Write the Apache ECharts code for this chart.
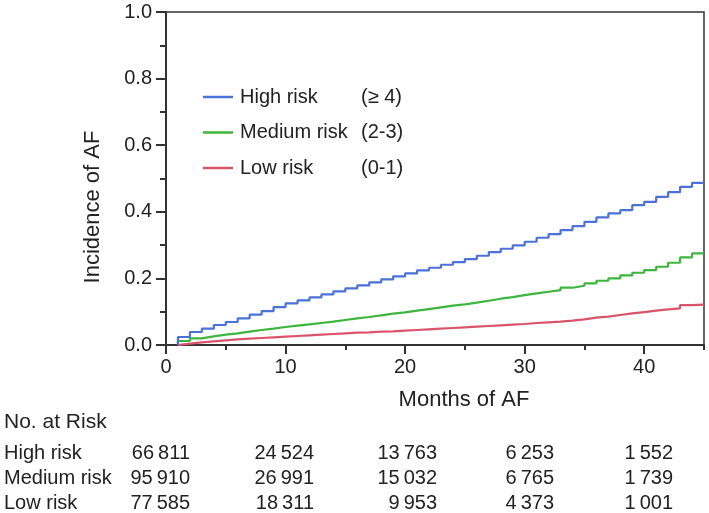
<!DOCTYPE html>
<html>
<head>
<meta charset="utf-8">
<script src="https://cdn.jsdelivr.net/npm/echarts@6/dist/echarts.min.js"></script>
<style>html,body{margin:0;padding:0;background:#fff}#c{width:709px;height:513px}</style>
</head>
<body>
<div id="c"></div>
<script>
// ---- data ----
const months = [1,2,3,4,5,6,7,8,9,10,11,12,13,14,15,16,17,18,19,20,21,22,23,24,25,26,27,28,29,30,31,32,33,34,35,36,37,38,39,40,41,42,43,44];
const endMonth = 45;
const highRisk = [0.024,0.039,0.049,0.060,0.069,0.080,0.091,0.102,0.114,0.125,0.134,0.143,0.152,0.161,0.170,0.179,0.188,0.197,0.206,0.215,0.224,0.232,0.241,0.249,0.258,0.268,0.279,0.289,0.299,0.310,0.322,0.333,0.345,0.357,0.370,0.383,0.395,0.405,0.420,0.430,0.445,0.459,0.475,0.487];
const mediumRisk = [0.012,0.020,0.026,0.031,0.035,0.040,0.045,0.049,0.054,0.058,0.062,0.066,0.070,0.075,0.080,0.084,0.089,0.094,0.098,0.103,0.108,0.113,0.118,0.122,0.127,0.133,0.139,0.144,0.150,0.155,0.160,0.165,0.172,0.178,0.185,0.193,0.200,0.209,0.217,0.225,0.235,0.247,0.263,0.275];
const lowRisk = [0.004,0.008,0.011,0.014,0.017,0.019,0.021,0.023,0.025,0.027,0.029,0.031,0.033,0.035,0.037,0.038,0.040,0.041,0.043,0.045,0.047,0.049,0.051,0.053,0.055,0.057,0.059,0.061,0.063,0.066,0.068,0.070,0.073,0.077,0.082,0.085,0.090,0.095,0.099,0.103,0.107,0.110,0.120,0.121];
const seriesNames = ['High risk','Medium risk','Low risk'];
const seriesCriteria = ['(≥ 4)','(2-3)','(0-1)'];
const yTicks = [0,0.2,0.4,0.6,0.8,1.0];
const xTicks = [0,10,20,30,40];
const tableTitle = 'No. at Risk';
const atRiskHigh = [66811,24524,13763,6253,1552];
const atRiskMedium = [95910,26991,15032,6765,1739];
const atRiskLow = [77585,18311,9953,4373,1001];

// ---- styles / layout ----
const colors = ['#4a72d8','#3db63d','#d9546a'];
const FONT = '"Liberation Sans", Arial, Helvetica, sans-serif';
const txt = '#222';
const axisCol = '#333';
const tableColRight = [190,314,437,554,673];
const tableRowY = [453,478,503];

function stepData(vals){
  const d = [[months[0],0]];
  for (let i=0;i<months.length;i++) d.push([months[i],vals[i]]);
  d.push([endMonth, vals[vals.length-1]]);
  return d;
}
function fmt(n){
  const s = String(n);
  return s.length>3 ? s.slice(0,s.length-3)+'\u2009'+s.slice(s.length-3) : s;
}

const chart = echarts.init(document.getElementById('c'), null, {renderer:'canvas'});
const allVals = [highRisk, mediumRisk, lowRisk];
const tables = [atRiskHigh, atRiskMedium, atRiskLow];

function T(text, x, y, size, align, rot){
  const el = {type:'text', x:x, y:y,
    style:{text:text, x:0, y:0, font:size+'px '+FONT, fill:txt, align:align, verticalAlign:'middle', textAlign:align, textVerticalAlign:'middle'}};
  if (rot) el.rotation = rot;
  return el;
}
const graphics = [];
graphics.push(T('Incidence of AF', 93, 207, 22, 'center', Math.PI/2));
graphics.push(T('Months of AF', 464, 400, 22, 'center'));
graphics.push(T(tableTitle, 4, 422, 21, 'left'));
for (let r=0;r<3;r++){
  graphics.push(T(seriesNames[r], 4, tableRowY[r], 20, 'left'));
  for (let c=0;c<tables[r].length;c++){
    graphics.push(T(fmt(tables[r][c]), tableColRight[c], tableRowY[r], 20, 'right'));
  }
}

const option = {
  animation:false,
  backgroundColor:'#fff',
  grid:[
    {left:166, right:5, top:12, bottom:168, show:true, borderColor:axisCol, borderWidth:1.5, containLabel:false},
    {left:166, right:5, top:12, bottom:168, show:false, containLabel:false}
  ],
  legend:{
    left:203, top:87, padding:0, orient:'vertical', icon:'rect', itemWidth:30, itemHeight:2.5, itemGap:15.5,
    data:seriesNames,
    formatter:function(name){ const i = seriesNames.indexOf(name); return '{a|'+name+'}{b|'+seriesCriteria[i]+'}'; },
    textStyle:{rich:{
      a:{width:121, fontSize:20, fontFamily:FONT, color:txt, lineHeight:20, padding:[0,0,0,2]},
      b:{fontSize:20, fontFamily:FONT, color:txt, lineHeight:20}
    }}
  },
  xAxis:[
    {type:'value', gridIndex:0, min:0, max:45, interval:10,
     axisLine:{show:true, onZero:false, lineStyle:{color:axisCol, width:2}},
     axisTick:{show:true, length:9, lineStyle:{color:axisCol, width:2}},
     axisLabel:{show:true, margin:12, fontSize:20, fontFamily:FONT, color:txt, showMaxLabel:false,
       formatter:function(v){ return xTicks.indexOf(v)>=0 ? String(v) : ''; }},
     splitLine:{show:false}},
    {type:'value', gridIndex:1, min:0, max:45, interval:5, position:'bottom',
     axisLine:{show:false}, axisTick:{show:true, length:5, lineStyle:{color:axisCol, width:2}},
     axisLabel:{show:false}, splitLine:{show:false}}
  ],
  yAxis:[
    {type:'value', gridIndex:0, min:0, max:1, interval:0.2,
     axisLine:{show:true, onZero:false, lineStyle:{color:axisCol, width:2}},
     axisTick:{show:true, length:10, lineStyle:{color:axisCol, width:2}},
     minorTick:{show:true, splitNumber:2, length:6, lineStyle:{color:axisCol, width:2}},
     axisLabel:{show:true, margin:14, fontSize:20, fontFamily:FONT, color:txt,
       formatter:function(v){ const i = yTicks.findIndex(t=>Math.abs(t-v)<1e-9); return i>=0 ? yTicks[i].toFixed(1) : ''; }},
     splitLine:{show:false}},
    {type:'value', gridIndex:1, min:0, max:1, show:false}
  ],
  series: seriesNames.map((n,i)=>({
    name:n, type:'line', xAxisIndex:0, yAxisIndex:0, step:'end', showSymbol:false, symbol:'none',
    data:stepData(allVals[i]), lineStyle:{color:colors[i], width:2.2}, itemStyle:{color:colors[i]}, z:5-i
  })),
  graphic:graphics
};
chart.setOption(option);
</script>
</body>
</html>
